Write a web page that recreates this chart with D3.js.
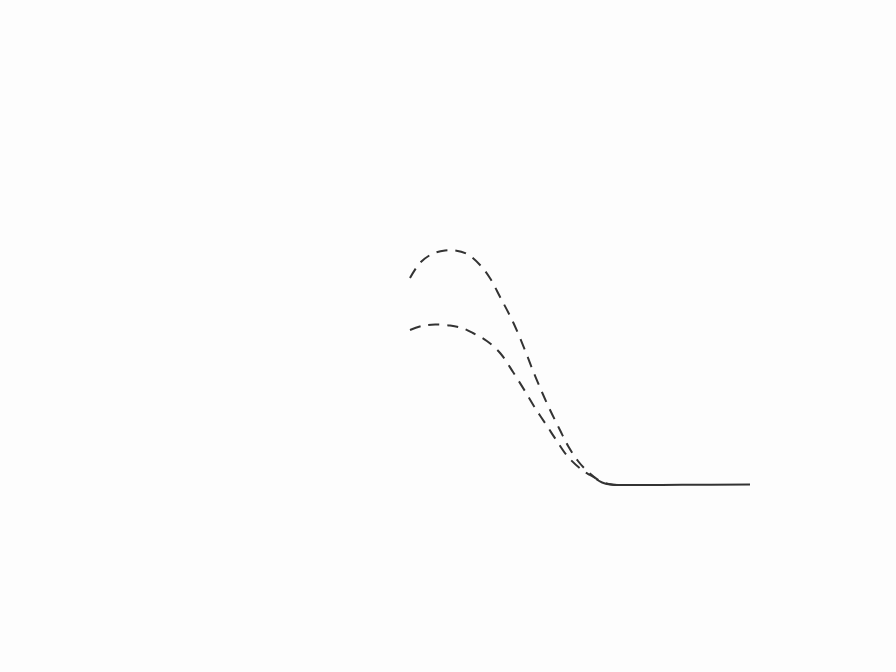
<!DOCTYPE html>
<html>
<head>
<meta charset="utf-8">
<script src="https://cdn.jsdelivr.net/npm/d3@7"></script>
<style>
  html, body { margin: 0; padding: 0; background: #fdfdfd; }
  svg { display: block; }
</style>
</head>
<body>
<svg id="chart" width="896" height="672"></svg>
<script>
// Series data (abstract units)
const upperX = [0, 0.29, 0.65, 1.03, 1.32, 1.68, 2.06, 2.35, 2.65, 3.03, 3.38, 3.62, 3.88, 4.12, 4.41, 4.65, 4.94, 5.24, 5.5, 5.79, 6.09];
const upperY = [0.828, 0.888, 0.924, 0.938, 0.938, 0.924, 0.88, 0.828, 0.752, 0.652, 0.54, 0.456, 0.372, 0.30, 0.22, 0.156, 0.096, 0.052, 0.024, 0.006, 0];

const lowerX = [0, 0.35, 0.74, 1.18, 1.53, 1.85, 2.26, 2.65, 3.03, 3.38, 3.68, 4.03, 4.32, 4.65, 5.06, 5.29, 5.5];
const lowerY = [0.62, 0.636, 0.642, 0.638, 0.628, 0.608, 0.576, 0.528, 0.452, 0.376, 0.308, 0.236, 0.176, 0.112, 0.06, 0.04, 0.024];

const solidX = [5.47, 5.65, 5.88, 6.47, 8.0, 10];
const solidY = [0.024, 0.01, 0.002, 0, 0.001, 0.002];

const svg = d3.select("#chart");
const x = d3.scaleLinear().domain([0, 10]).range([410, 750]);
const y = d3.scaleLinear().domain([0, 1]).range([485, 235]);

const line = d3.line()
  .x(d => x(d[0]))
  .y(d => y(d[1]))
  .curve(d3.curveCatmullRom.alpha(0.5));

const zip = (a, b) => a.map((v, i) => [v, b[i]]);

svg.append("path")
  .datum(zip(upperX, upperY))
  .attr("d", line)
  .attr("fill", "none")
  .attr("stroke", "#333")
  .attr("stroke-width", 2)
  .attr("stroke-dasharray", "11,8");

svg.append("path")
  .datum(zip(lowerX, lowerY))
  .attr("d", line)
  .attr("fill", "none")
  .attr("stroke", "#333")
  .attr("stroke-width", 2)
  .attr("stroke-dasharray", "11,8");

svg.append("path")
  .datum(zip(solidX, solidY))
  .attr("d", line)
  .attr("fill", "none")
  .attr("stroke", "#333")
  .attr("stroke-width", 2);
</script>
</body>
</html>
